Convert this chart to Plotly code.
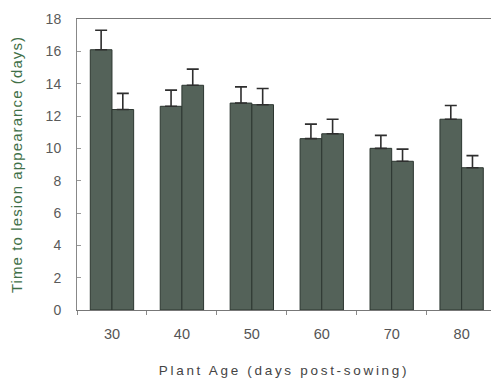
import plotly.graph_objects as go

# Plant age at inoculation (days post-sowing)
ages = ["30", "40", "50", "60", "70", "80"]

# Mean time to lesion appearance (days) for the two treatments
series_a = [16.1, 12.6, 12.8, 10.6, 10.0, 11.8]
series_b = [12.4, 13.9, 12.7, 10.9, 9.2, 8.8]

# Standard errors (upper bars only)
err_a = [1.2, 1.0, 1.0, 0.9, 0.8, 0.85]
err_b = [1.0, 1.0, 1.0, 0.9, 0.75, 0.75]

bar_fill = "#546259"
bar_edge = "#2c3630"
err_color = "#2e2e2e"

fig = go.Figure()
for vals, errs, name in [(series_a, err_a, "A"), (series_b, err_b, "B")]:
    fig.add_trace(go.Bar(
        x=ages, y=vals, name=name,
        marker=dict(color=bar_fill, line=dict(color=bar_edge, width=1)),
        error_y=dict(type="data", symmetric=False, array=errs,
                     arrayminus=[0] * len(errs),
                     color=err_color, thickness=1.6, width=6),
    ))

fig.update_layout(
    width=495, height=380,
    margin=dict(l=77, r=4, t=19, b=70),
    paper_bgcolor="white", plot_bgcolor="white",
    barmode="group", bargap=0.38, bargroupgap=0,
    showlegend=False,
    font=dict(family="Liberation Sans, Arial, sans-serif", color="#555555"),
    xaxis=dict(
        range=[-0.5, 5.42], automargin=False,
        showline=True, linecolor="#777777", linewidth=1.2, mirror=True,
        ticks="outside", ticklen=4, tickcolor="#888888", tickson="boundaries",
        tickfont=dict(size=14.5, color="#555555"), ticklabelstandoff=10,
        title=dict(text="Plant Age (days post-sowing)",
                   font=dict(size=13.5, color="#444444"), standoff=25),
        showgrid=False, zeroline=False,
    ),
    yaxis=dict(
        range=[0, 18], dtick=2, automargin=False,
        showline=True, linecolor="#888888", linewidth=1,
        ticks="inside", ticklen=4, tickcolor="#999999",
        tickfont=dict(size=14, color="#5a5a5a"), ticklabelstandoff=12,
        title=dict(text="Time to lesion appearance (days)",
                   font=dict(size=15, color="#3f7048"), standoff=19),
        showgrid=False, zeroline=False,
    ),
)

# Widen the tracking of the axis titles
tracking = (
    "var s=document.createElement('style');"
    "s.textContent='.xtitle{letter-spacing:2.7px}.ytitle{letter-spacing:1.1px}';"
    "document.head.appendChild(s);"
)

fig.write_html("out.html", post_script=tracking)
